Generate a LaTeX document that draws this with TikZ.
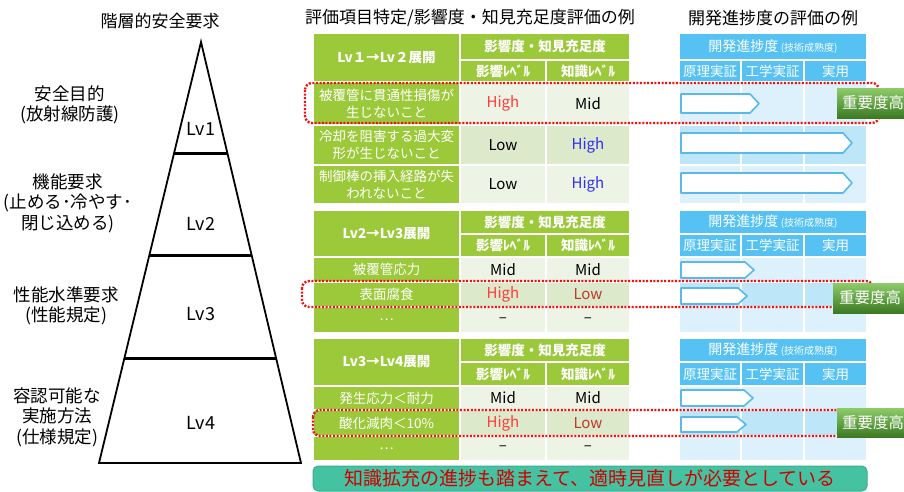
\documentclass[tikz,border=0pt]{standalone}
\usepackage{fontspec}
\setmainfont{Noto Sans CJK JP}
\usetikzlibrary{calc}
\definecolor{gmain}{HTML}{9BC93A}
\definecolor{glight}{HTML}{EEF4E5}
\definecolor{gdark}{HTML}{DCE9CB}
\definecolor{bhead}{HTML}{55C2F3}
\definecolor{blight}{HTML}{DDF1FC}
\definecolor{bdark}{HTML}{BEE6F9}
\definecolor{barrow}{HTML}{5BB8EA}
\definecolor{hired}{HTML}{FF3B3B}
\definecolor{lored}{HTML}{C0392B}
\definecolor{hiblue}{HTML}{2E2EF5}
\definecolor{tealbg}{HTML}{45C2A2}
\definecolor{tealbd}{HTML}{38AE8F}
\definecolor{dred}{HTML}{D00000}
\definecolor{badgetop}{HTML}{8DCB6A}
\definecolor{badgebot}{HTML}{3B7A22}
\definecolor{dotred}{HTML}{F01010}
\tikzset{
  cellbase/.style={inner sep=0pt, draw=white, line width=1.5pt, text=white, align=center},
  hdr/.style={font=\fontsize{13.5}{16}\selectfont\bfseries},
  jtxt/.style={font=\fontsize{13.5}{16.5}\selectfont},
  data/.style={font=\fontsize{15}{18}\selectfont, text=black},
  bhdr/.style={font=\fontsize{14}{16}\selectfont},
  bsub/.style={font=\fontsize{13.5}{16}\selectfont},
  parr/.style={fill=white, draw=barrow, line width=1.6pt, line join=round},
  redbox/.style={draw=dotred, line width=2.4pt, dash pattern=on 2pt off 1.6pt, rounded corners=7pt},
  badge/.style={inner sep=0pt, top color=badgetop, bottom color=badgebot, text=white, font=\fontsize{15.5}{18}\selectfont},
  pyrtitle/.style={font=\fontsize{17}{20}\selectfont, align=center},
  lvl/.style={font=\fontsize{17.5}{20.5}\selectfont, align=center},
  lvtxt/.style={font=\fontsize{18}{20}\selectfont},
  pyr/.style={line width=1.8pt, line join=miter},
  divl/.style={line width=3pt},
}
\newcommand\tcell[8][]{\node[cellbase,#1,fill=#7,minimum width={(#5-#3)*1pt},minimum height={(#6-#4)*1pt}] (#2) at ({(#3+#5)/2},{(#4+#6)/2}) {#8};}
\newcommand\progarrow[4]{\draw[parr] (#1,#2) -- ({#3-9},#2) -- (#3,{(#2+#4)/2}) -- ({#3-9},#4) -- (#1,#4) -- cycle;}
\begin{document}
\begin{tikzpicture}[x=1pt,y=-1pt]
\useasboundingbox (0,0) rectangle (904,491);
\clip (0,0) rectangle (904,491);
% ---------- pyramid ----------
\node[pyrtitle] (ptitle) at (160,21) {階層的安全要求};
\coordinate (apex) at (201,42);
\coordinate (bl) at (99,463);
\coordinate (br) at (301,463);
\draw[pyr] (apex) -- (bl) -- (br) -- cycle;
\draw[divl] ($(apex)!0.266!(bl)$) -- ($(apex)!0.266!(br)$);
\draw[divl] ($(apex)!0.506!(bl)$) -- ($(apex)!0.506!(br)$);
\draw[divl] ($(apex)!0.7506!(bl)$) -- ($(apex)!0.7506!(br)$);
\node[lvtxt] (lv1) at (201,129) {Lv1};
\node[lvtxt] (lv2) at (201,224) {Lv2};
\node[lvtxt] (lv3) at (201,314) {Lv3};
\node[lvtxt] (lv4) at (201,423) {Lv4};
\node[lvl] (l1) at (70,105) {安全目的\\(放射線防護)};
\node[lvl] (l2) at (68,203) {機能要求\\(止める･冷やす･\\閉じ込める)};
\node[lvl] (l3) at (66,306) {性能水準要求\\(性能規定)};
\node[lvl] (l4) at (57,417) {容認可能な\\実施方法\\(仕様規定)};
% ---------- titles ----------
\node[pyrtitle] (t1) at (470,18) {評価項目特定/影響度・知見充足度評価の例};
\node[pyrtitle] (t2) at (773,18) {開発進捗度の評価の例};
% ---------- green table 1 ----------
\tcell[hdr]{gA0}{313}{33}{460}{82}{gmain}{Lv１→Lv２展開}
\tcell[hdr]{gA1}{460}{33}{630}{60}{gmain}{影響度・知見充足度}
\tcell[hdr]{gA2}{460}{60}{546}{82}{gmain}{影響ﾚﾍﾞﾙ}
\tcell[hdr]{gA3}{546}{60}{630}{82}{gmain}{知識ﾚﾍﾞﾙ}
\tcell[jtxt]{gA4}{313}{82}{460}{125}{gmain}{被覆管に貫通性損傷が\\生じないこと}
\tcell[data]{gA5}{460}{82}{546}{125}{glight}{\color{hired}High}
\tcell[data]{gA6}{546}{82}{630}{125}{glight}{Mid}
\tcell[jtxt]{gA7}{313}{125}{460}{165}{gmain}{冷却を阻害する過大変\\形が生じないこと}
\tcell[data]{gA8}{460}{125}{546}{165}{gdark}{Low}
\tcell[data]{gA9}{546}{125}{630}{165}{gdark}{\color{hiblue}High}
\tcell[jtxt]{gA10}{313}{165}{460}{204}{gmain}{制御棒の挿入経路が失\\われないこと}
\tcell[data]{gA11}{460}{165}{546}{204}{glight}{Low}
\tcell[data]{gA12}{546}{165}{630}{204}{glight}{\color{hiblue}High}
% ---------- green table 2 ----------
\tcell[hdr]{gB0}{313}{210}{460}{257}{gmain}{Lv2→Lv3展開}
\tcell[hdr]{gB1}{460}{210}{630}{234}{gmain}{影響度・知見充足度}
\tcell[hdr]{gB2}{460}{234}{546}{257}{gmain}{影響ﾚﾍﾞﾙ}
\tcell[hdr]{gB3}{546}{234}{630}{257}{gmain}{知識ﾚﾍﾞﾙ}
\tcell[jtxt]{gB4}{313}{257}{460}{282}{gmain}{被覆管応力}
\tcell[data]{gB5}{460}{257}{546}{282}{glight}{Mid}
\tcell[data]{gB6}{546}{257}{630}{282}{glight}{Mid}
\tcell[jtxt]{gB7}{313}{282}{460}{307}{gmain}{表面腐食}
\tcell[data]{gB8}{460}{282}{546}{307}{gdark}{\color{hired}High}
\tcell[data]{gB9}{546}{282}{630}{307}{gdark}{\color{lored}Low}
\tcell[jtxt]{gB10}{313}{307}{460}{333}{gmain}{…}
\tcell[data]{gB11}{460}{307}{546}{333}{glight}{–}
\tcell[data]{gB12}{546}{307}{630}{333}{glight}{–}
% ---------- green table 3 ----------
\tcell[hdr]{gC0}{313}{338}{460}{386}{gmain}{Lv3→Lv4展開}
\tcell[hdr]{gC1}{460}{338}{630}{362}{gmain}{影響度・知見充足度}
\tcell[hdr]{gC2}{460}{362}{546}{386}{gmain}{影響ﾚﾍﾞﾙ}
\tcell[hdr]{gC3}{546}{362}{630}{386}{gmain}{知識ﾚﾍﾞﾙ}
\tcell[jtxt]{gC4}{313}{386}{460}{410}{gmain}{発生応力＜耐力}
\tcell[data]{gC5}{460}{386}{546}{410}{glight}{Mid}
\tcell[data]{gC6}{546}{386}{630}{410}{glight}{Mid}
\tcell[jtxt]{gC7}{313}{410}{460}{436}{gmain}{酸化減肉＜10\%}
\tcell[data]{gC8}{460}{410}{546}{436}{gdark}{\color{hired}High}
\tcell[data]{gC9}{546}{410}{630}{436}{gdark}{\color{lored}Low}
\tcell[jtxt]{gC10}{313}{436}{460}{461}{gmain}{…}
\tcell[data]{gC11}{460}{436}{546}{461}{glight}{–}
\tcell[data]{gC12}{546}{436}{630}{461}{glight}{–}
% ---------- blue tables ----------
\foreach \t/\ya/\ym/\yb/\ra/\rb/\rc/\rd in {A/33/60/82/82/125/165/204, B/210/234/257/257/282/307/333, C/338/362/386/386/410/436/461} {
  \tcell[bhdr]{b\t0}{679}{\ya}{867}{\ym}{bhead}{開発進捗度\,{\fontsize{10}{12}\selectfont(技術成熟度)}}
  \tcell[bsub]{b\t1}{679}{\ym}{741}{\yb}{bhead}{原理実証}
  \tcell[bsub]{b\t2}{741}{\ym}{804}{\yb}{bhead}{工学実証}
  \tcell[bsub]{b\t3}{804}{\ym}{867}{\yb}{bhead}{実用}
  \foreach \c/\xa/\xb in {1/679/741,2/741/804,3/804/867} {
    \tcell{b\t r1\c}{\xa}{\ra}{\xb}{\rb}{blight}{}
    \tcell{b\t r2\c}{\xa}{\rb}{\xb}{\rc}{bdark}{}
    \tcell{b\t r3\c}{\xa}{\rc}{\xb}{\rd}{blight}{}
  }
}
% progress arrows
\progarrow{681}{94}{759}{113}
\progarrow{681}{133}{852}{153}
\progarrow{681}{173}{852}{193}
\progarrow{681}{262}{754}{278}
\progarrow{681}{288}{747}{304}
\progarrow{681}{390}{753}{406}
\progarrow{681}{417}{746}{432}
% ---------- red dotted highlights ----------
\draw[redbox] (305,83) rectangle (879,123);
\draw[redbox] (302,281) rectangle (873,307);
\draw[redbox] (313,410) rectangle (870,436);
% ---------- badges ----------
\node[badge, minimum width=72pt, minimum height=30pt] (k1) at (873,103) {重要度高};
\node[badge, minimum width=74pt, minimum height=30pt] (k2) at (870,298) {重要度高};
\node[badge, minimum width=72pt, minimum height=29pt] (k3) at (873,422.5) {重要度高};
% ---------- banner ----------
\node[fill=tealbg, draw=tealbd, line width=1pt, rounded corners=5pt, minimum width=554pt, minimum height=25pt, inner sep=0pt, text=dred, font=\fontsize{19}{22}\selectfont] (note) at (590,478.5) {知識拡充の進捗も踏まえて、適時見直しが必要としている};
\end{tikzpicture}
\end{document}
